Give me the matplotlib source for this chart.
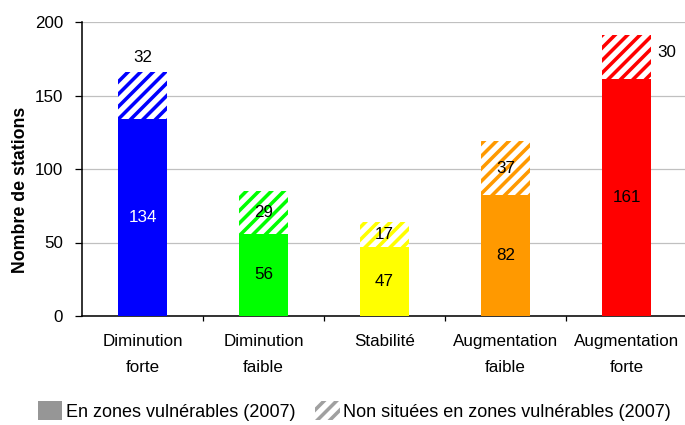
import matplotlib
matplotlib.use("Agg")
import matplotlib.pyplot as plt
from matplotlib.patches import Patch

plt.rcParams['font.family'] = ['Liberation Sans', 'DejaVu Sans']
plt.rcParams['hatch.linewidth'] = 3.4

# data
categories = ["Diminution\nforte", "Diminution\nfaible", "Stabilité",
              "Augmentation\nfaible", "Augmentation\nforte"]
en_zones = [134, 56, 47, 82, 161]
hors_zones = [32, 29, 17, 37, 30]
colors = ["#0000FF", "#00FF00", "#FFFF00", "#FF9900", "#FF0000"]
inner_text_colors = ["white", "black", "black", "black", "black"]
yticks = [0, 50, 100, 150, 200]

DPI = 75
fig = plt.figure(figsize=(685 / DPI, 425 / DPI), dpi=DPI)
ax = fig.add_axes([82 / 685, 1 - 316 / 425, 605 / 685, 294 / 425])

x = list(range(len(categories)))
w = 0.41
ax.bar(x, en_zones, width=w, color=colors, linewidth=0, zorder=3)
ax.bar(x, hors_zones, width=w, bottom=en_zones, color="white",
       edgecolor=colors, hatch="//", linewidth=0, zorder=3)

fs = 16.3
for i in x:
    ax.text(i, en_zones[i] / 2, str(en_zones[i]), ha="center", va="center",
            fontsize=fs, color=inner_text_colors[i], zorder=4)
    top = en_zones[i] + hors_zones[i]
    if i == 0:
        ax.text(i, top + 10, str(hors_zones[i]), ha="center", va="center",
                fontsize=fs, zorder=4)
    elif i == 4:
        ax.text(i + 0.335, top - 12, str(hors_zones[i]), ha="center",
                va="center", fontsize=fs, zorder=4)
    else:
        ax.text(i, en_zones[i] + hors_zones[i] / 2, str(hors_zones[i]),
                ha="center", va="center", fontsize=fs, zorder=4)

ax.set_ylim(0, 200)
ax.set_xlim(-0.5, 4.5)
ax.set_yticks(yticks)
ax.yaxis.grid(True, color="#C0C0C0", linewidth=1.2, zorder=0)
ax.set_axisbelow(True)
ax.tick_params(axis="y", labelsize=fs, length=7, width=1.2, pad=11,
               direction="out")

# category labels centered, ticks at category boundaries
ax.set_xticks([i + 0.5 for i in x[:-1]])
ax.set_xticklabels([])
ax.tick_params(axis="x", length=5, width=1.2, direction="out")
for i, c in enumerate(categories):
    ax.text(i, -12, c, ha="center", va="top", fontsize=fs,
            linespacing=1.95, transform=ax.transData)

for s in ["top", "right"]:
    ax.spines[s].set_visible(False)
for s in ["left", "bottom"]:
    ax.spines[s].set_linewidth(1.5)

ax.set_ylabel("Nombre de stations", fontsize=17, fontweight="bold")
ax.yaxis.set_label_coords(-0.087, 0.43)

handles = [Patch(facecolor="#969696", edgecolor="#969696", linewidth=0),
           Patch(facecolor="white", edgecolor="#A0A0A0", hatch="//",
                 linewidth=0)]
fig.legend(handles, ["En zones vulnérables (2007)",
                     "Non situées en zones vulnérables (2007)"],
           ncol=2, loc="center left", bbox_to_anchor=(38 / 685, 1 - 411 / 425),
           frameon=False, fontsize=17.3, handlelength=1.35, handleheight=1.25,
           handletextpad=0.2, columnspacing=1.1, borderpad=0,
           borderaxespad=0)

fig.savefig("out.png", dpi=DPI)
